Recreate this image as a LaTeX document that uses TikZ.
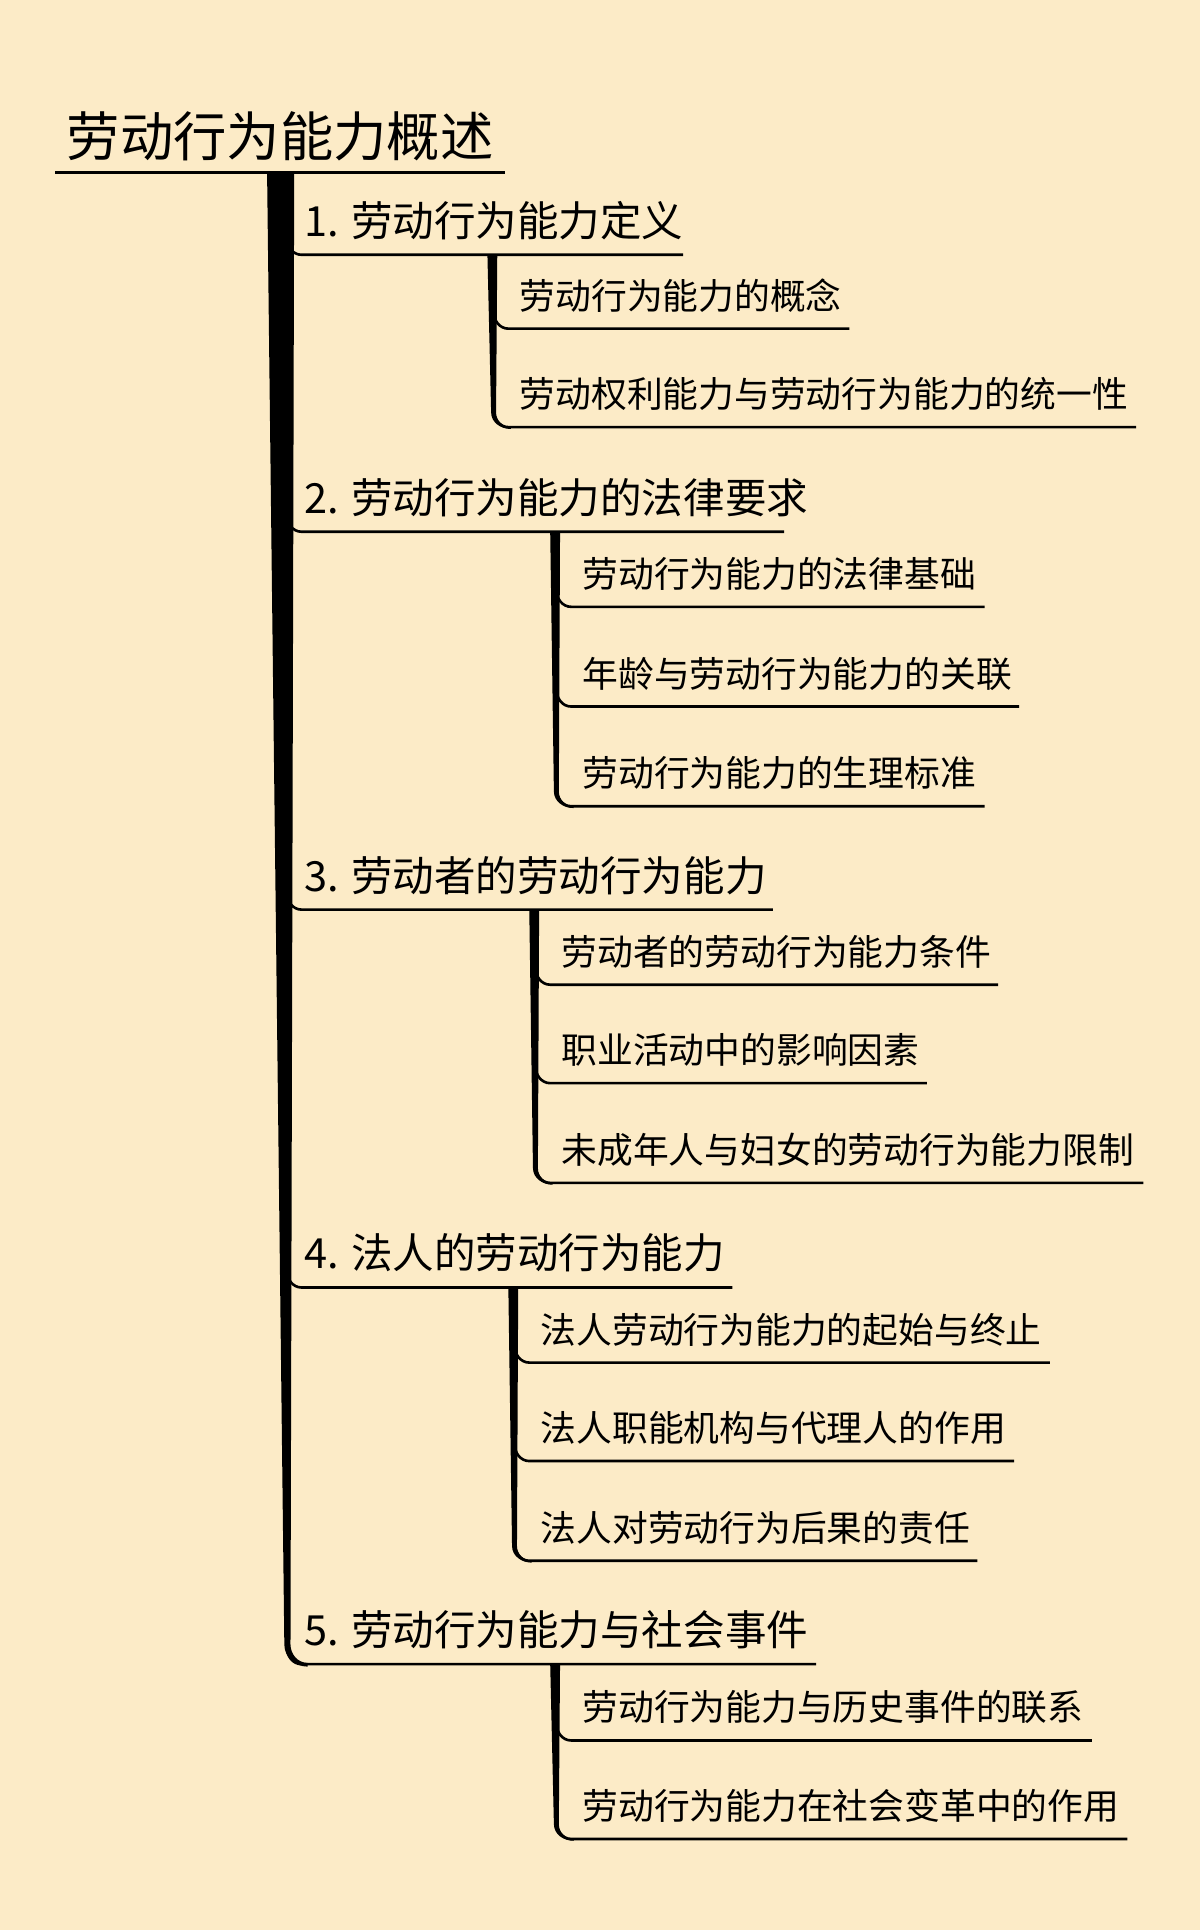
\documentclass[tikz,border=0pt]{standalone}
\usepackage{fontspec}
\setmainfont{Noto Sans CJK SC}
\definecolor{bg}{RGB}{252,235,199}
\begin{document}
\begin{tikzpicture}[x=0.75pt,y=-0.75pt,
  ttl/.style={anchor=south west,inner sep=0pt,font=\fontsize{32.5}{33}\selectfont},
  lone/.style={anchor=south west,inner sep=0pt,font=\fontsize{25.3}{26}\selectfont},
  ltwo/.style={anchor=south west,inner sep=0pt,font=\fontsize{21.8}{22}\selectfont},
  br/.style={line width=1.6pt}]
\fill[bg] (0,0) rectangle (975,1568);
\useasboundingbox (0,0) rectangle (975,1568);
% title
\node[ttl] (t) at (54,131) {劳动行为能力概述};
\draw[br] (45,140) -- (410,140);
% main trunk
\fill (217,141) -- (239,141) -- (236,1336) to[out=-90,in=180] (250,1351) -- (250,1354) to[out=180,in=-90] (231,1336) -- cycle;
% level 1
\foreach \y/\e/\t [count=\i] in {207/555/{1. 劳动行为能力定义},432/637/{2. 劳动行为能力的法律要求},739/628/{3. 劳动者的劳动行为能力},1046/595/{4. 法人的劳动行为能力},1352/663/{5. 劳动行为能力与社会事件}}{
  \node[lone] (a\i) at (247,\y-12) {\t};
  \draw[br] (233,\y-14) to[out=-90,in=180] (245,\y) -- (\e,\y);
}
% sub trees
\newcommand\subtrunk[3]{%
  \fill (#1-5,#2) -- (#1+3,#2) -- (#1+2,#3-12) to[out=-90,in=180] (#1+14,#3) -- (#1+14,#3+1.5) to[out=180,in=-90] (#1-2,#3-12) -- cycle;}
\newcommand\child[5]{%
  \draw[br] (#1,#2-14) to[out=-90,in=180] (#1+12,#2) -- (#3,#2);
  \node[ltwo] (#5) at (#1+21,#2-13) {#4};}
\subtrunk{401}{207}{347}
\child{401}{267}{690}{劳动行为能力的概念}{b1}
\child{401}{347}{923}{劳动权利能力与劳动行为能力的统一性}{b2}
\subtrunk{452}{432}{655}
\child{452}{493}{800}{劳动行为能力的法律基础}{c1}
\child{452}{574}{828}{年龄与劳动行为能力的关联}{c2}
\child{452}{655}{800}{劳动行为能力的生理标准}{c3}
\subtrunk{435}{739}{961}
\child{435}{800}{811}{劳动者的劳动行为能力条件}{d1}
\child{435}{880}{753}{职业活动中的影响因素}{d2}
\child{435}{961}{929}{未成年人与妇女的劳动行为能力限制}{d3}
\subtrunk{418}{1046}{1268}
\child{418}{1107}{853}{法人劳动行为能力的起始与终止}{e1}
\child{418}{1187}{824}{法人职能机构与代理人的作用}{e2}
\child{418}{1268}{794}{法人对劳动行为后果的责任}{e3}
\subtrunk{452}{1352}{1494}
\child{452}{1414}{887}{劳动行为能力与历史事件的联系}{f1}
\child{452}{1494}{916}{劳动行为能力在社会变革中的作用}{f2}
\end{tikzpicture}
\end{document}
